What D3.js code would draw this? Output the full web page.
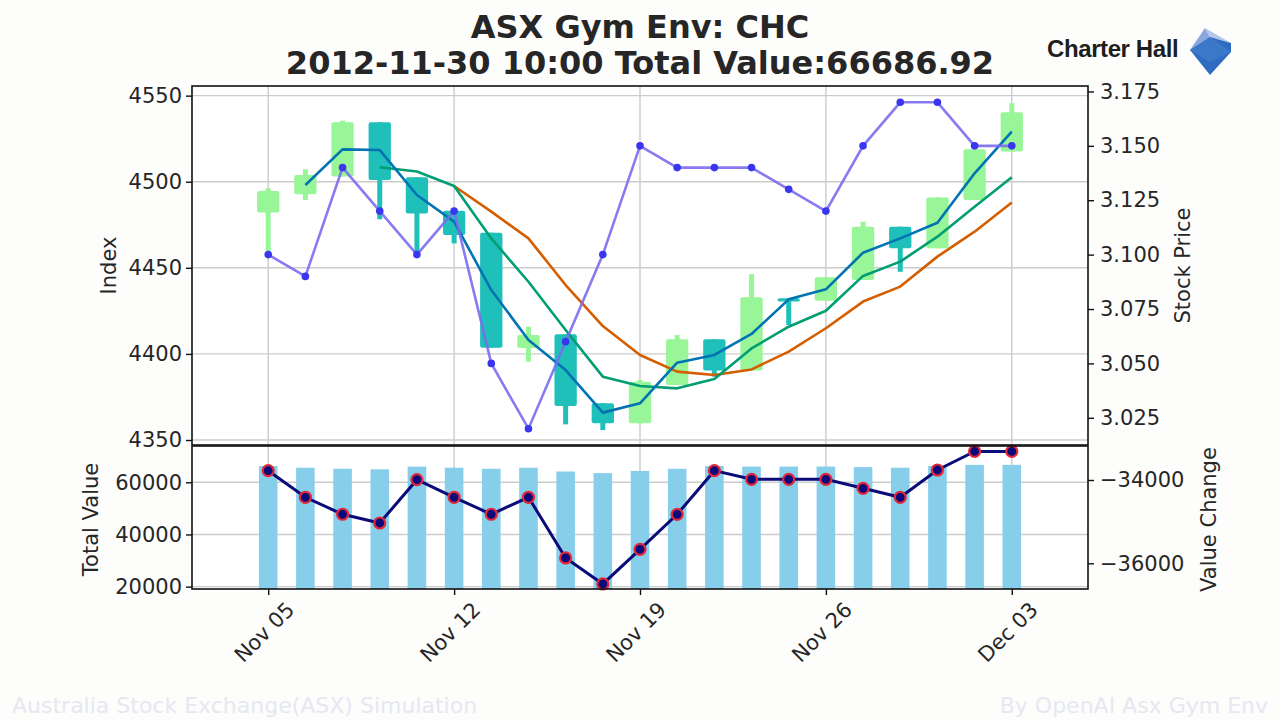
<!DOCTYPE html>
<html><head><meta charset="utf-8">
<script src="https://cdn.jsdelivr.net/npm/d3@7"></script>
<style>
body{margin:0;background:#fdfdfc;}
svg{display:block;font-family:"DejaVu Sans",sans-serif;}
</style>
</head><body>
<svg id="c" width="1280" height="720"></svg>
<script>
// ---------- data ----------
const dates = ["2012-11-05","2012-11-06","2012-11-07","2012-11-08","2012-11-09",
  "2012-11-12","2012-11-13","2012-11-14","2012-11-15","2012-11-16",
  "2012-11-19","2012-11-20","2012-11-21","2012-11-22","2012-11-23",
  "2012-11-26","2012-11-27","2012-11-28","2012-11-29","2012-11-30","2012-12-03"];
const openV  = [4482.2,4492.7,4503.0,4534.5,4502.6,4483.2,4470.4,4403.5,4411.4,4371.3,4359.7,4381.9,4408.5,4390.3,4432.3,4430.9,4442.9,4473.9,4461.3,4489.4,4517.5];
const highV  = [4496.2,4507.2,4535.5,4534.5,4502.6,4484.0,4470.4,4415.8,4411.4,4371.3,4384.9,4411.0,4408.5,4446.4,4432.3,4444.5,4476.8,4473.9,4490.9,4518.8,4545.6];
const lowV   = [4459.4,4489.4,4503.0,4478.2,4459.4,4464.2,4403.6,4395.5,4359.1,4355.8,4359.7,4381.9,4386.8,4390.3,4416.8,4430.9,4442.9,4447.7,4461.3,4489.4,4517.5];
const closeV = [4494.6,4503.9,4534.5,4501.0,4481.6,4469.1,4403.6,4411.0,4369.7,4359.7,4383.9,4408.5,4390.3,4432.9,4430.4,4444.5,4473.9,4461.3,4490.9,4518.8,4540.3];
const maShort = [null,4498.1,4518.8,4518.4,4492.3,4476.8,4437.1,4408.1,4390.6,4365.9,4371.3,4394.9,4399.4,4411.6,4431.7,4437.5,4458.8,4467.1,4476.2,4504.9,4529.1];
const maMid   = [null,null,null,4508.4,4505.9,4497.5,4467.1,4441.9,4413.9,4386.8,4381.4,4380.0,4385.4,4403.2,4415.8,4425.1,4445.3,4453.6,4468.1,4485.5,4502.6];
const maLong  = [null,null,null,null,null,4497.5,4482.6,4467.1,4440.0,4416.2,4399.4,4389.7,4387.8,4391.0,4401.3,4414.9,4430.4,4439.1,4456.5,4471.0,4487.9];
const stockPrice = [3.10,3.09,3.14,3.12,3.10,3.12,3.05,3.02,3.06,3.10,3.15,3.14,3.14,3.14,3.13,3.12,3.15,3.17,3.17,3.15,3.15];
const totalValue = [66223,65585,65177,64968,66007,65585,65177,65585,64128,63504,64336,65176,66224,66016,66016,66016,65800,65584,66240,66686.92,66686.92];
const valueChange = [-33777,-34415,-34823,-35032,-33993,-34415,-34823,-34415,-35872,-36496,-35664,-34824,-33776,-33984,-33984,-33984,-34200,-34416,-33760,-33313.08,-33313.08];
const xTickDates = ["2012-11-05","2012-11-12","2012-11-19","2012-11-26","2012-12-03"];
const xTickLabels = ["Nov 05","Nov 12","Nov 19","Nov 26","Dec 03"];
const indexTicks = [4350,4400,4450,4500,4550];
const priceTicks = [3.025,3.050,3.075,3.100,3.125,3.150,3.175];
const totalTicks = [20000,40000,60000];
const changeTicks = [-36000,-34000];
const titleLines = ["ASX Gym Env: CHC","2012-11-30 10:00 Total Value:66686.92"];

// ---------- layout ----------
const svg = d3.select("#c");
const L=192,R=1088,T1=86,B1=445,T2=446,B2=589;
const FS=21, TXT="#262626";
const idx = dates.map((d,i)=>i);
const x = d3.scaleLinear().domain([-2.05,22.05]).range([L,R]);
const yL = d3.scaleLinear().domain([4347.1,4555.6]).range([B1,T1]);
const yR = d3.scaleLinear().domain([3.0125,3.1775]).range([B1,T1]);
const yB = d3.scaleLinear().domain([19100,73900]).range([B2,T2]);
const yV = d3.scaleLinear().domain([-36617,-33184]).range([B2,T2]);
const tickIdx = xTickDates.map(d=>dates.indexOf(d));

svg.append("rect").attr("width",1280).attr("height",720).attr("fill","#fdfdfc");
svg.append("rect").attr("x",L).attr("y",T1).attr("width",R-L).attr("height",B2-T1).attr("fill","#ffffff");

// grid
const grid = svg.append("g").attr("stroke","#cccccc").attr("stroke-width",1.4);
grid.selectAll(".hg").data(indexTicks).join("line")
  .attr("x1",L).attr("x2",R).attr("y1",d=>yL(d)).attr("y2",d=>yL(d));
grid.selectAll(".hb").data(totalTicks).join("line")
  .attr("x1",L).attr("x2",R).attr("y1",d=>yB(d)).attr("y2",d=>yB(d));
grid.selectAll(".vg").data(tickIdx).join("line")
  .attr("x1",d=>x(d)).attr("x2",d=>x(d)).attr("y1",T1).attr("y2",B1);
grid.selectAll(".vb").data(tickIdx).join("line")
  .attr("x1",d=>x(d)).attr("x2",d=>x(d)).attr("y1",T2).attr("y2",B2);

// candles
const UP="#98f598", DOWN="#1fbfba";
const bw = x(0.3)-x(0);
const cg = svg.append("g");
cg.selectAll(".wick").data(idx).join("rect")
  .attr("x",i=>x(i)-2.5).attr("width",5)
  .attr("y",i=>yL(highV[i])).attr("height",i=>Math.max(1,yL(lowV[i])-yL(highV[i])))
  .attr("fill",i=>closeV[i]>=openV[i]?UP:DOWN);
cg.selectAll(".body").data(idx).join("rect")
  .attr("x",i=>x(i)-bw).attr("width",2*bw)
  .attr("y",i=>yL(Math.max(openV[i],closeV[i])))
  .attr("height",i=>Math.max(2,Math.abs(yL(openV[i])-yL(closeV[i]))))
  .attr("rx",2)
  .attr("fill",i=>closeV[i]>=openV[i]?UP:DOWN);

// moving averages
function maLine(arr,color){
  const ln = d3.line().defined(i=>arr[i]!=null).x(i=>x(i)).y(i=>yL(arr[i]));
  svg.append("path").attr("d",ln(idx)).attr("fill","none").attr("stroke",color).attr("stroke-width",2.6).attr("stroke-linejoin","round");
}
maLine(maLong,"#d55e00");
maLine(maMid,"#029e73");
maLine(maShort,"#0173b2");

// stock price
svg.append("path").attr("d",d3.line().x(i=>x(i)).y(i=>yR(stockPrice[i]))(idx))
  .attr("fill","none").attr("stroke","#7b6cee").attr("stroke-width",2.6).attr("stroke-opacity",0.9);
svg.selectAll(".pp").data(idx).join("circle")
  .attr("cx",i=>x(i)).attr("cy",i=>yR(stockPrice[i])).attr("r",3.8).attr("fill","#3a35ee");

// bottom panel bars
const barW = x(0.25)-x(0);
svg.selectAll(".bar").data(idx).join("rect")
  .attr("x",i=>x(i)-barW).attr("width",2*barW)
  .attr("y",i=>yB(totalValue[i])).attr("height",i=>B2-yB(totalValue[i]))
  .attr("fill","#87ceeb");
svg.append("path").attr("d",d3.line().x(i=>x(i)).y(i=>yV(valueChange[i]))(idx))
  .attr("fill","none").attr("stroke","#0a0a78").attr("stroke-width",3);
svg.selectAll(".vp").data(idx).join("circle")
  .attr("cx",i=>x(i)).attr("cy",i=>yV(valueChange[i])).attr("r",5.5)
  .attr("fill","#0a0a7a").attr("stroke","#e0283a").attr("stroke-width",2.2);

// frames
svg.append("rect").attr("x",L).attr("y",T1).attr("width",R-L).attr("height",B1-T1)
  .attr("fill","none").attr("stroke","#111").attr("stroke-width",1.6);
svg.append("rect").attr("x",L).attr("y",T2).attr("width",R-L).attr("height",B2-T2)
  .attr("fill","none").attr("stroke","#111").attr("stroke-width",1.6);

// axes
function styleAxis(g){
  g.select(".domain").remove();
  g.selectAll("line").attr("stroke","#111").attr("stroke-width",1.4);
  g.selectAll("text").attr("font-size",FS).attr("fill",TXT).attr("font-family","DejaVu Sans");
}
svg.append("g").attr("transform",`translate(${L},0)`)
  .call(d3.axisLeft(yL).tickValues(indexTicks).tickFormat(d3.format("d")).tickSize(6).tickPadding(4)).call(styleAxis);
svg.append("g").attr("transform",`translate(${R},0)`)
  .call(d3.axisRight(yR).tickValues(priceTicks).tickFormat(d3.format(".3f")).tickSize(6).tickPadding(6)).call(styleAxis);
svg.append("g").attr("transform",`translate(${L},0)`)
  .call(d3.axisLeft(yB).tickValues(totalTicks).tickFormat(d3.format("d")).tickSize(6).tickPadding(4)).call(styleAxis);
svg.append("g").attr("transform",`translate(${R},0)`)
  .call(d3.axisRight(yV).tickValues(changeTicks).tickFormat(d3.format("d")).tickSize(6).tickPadding(6)).call(styleAxis);
const xa = svg.append("g").attr("transform",`translate(0,${B2})`)
  .call(d3.axisBottom(x).tickValues(tickIdx).tickFormat(()=>"").tickSize(6));
xa.select(".domain").remove();
xa.selectAll("line").attr("stroke","#111").attr("stroke-width",1.4);
svg.selectAll(".xl").data(tickIdx).join("text")
  .attr("transform",(d)=>`translate(${x(d)-3},${B2+44}) rotate(-45)`)
  .attr("text-anchor","middle").attr("dominant-baseline","middle")
  .attr("font-size",FS).attr("fill",TXT)
  .text((d,k)=>xTickLabels[k]);

// axis labels
function vlabel(txt,cx,cy){
  svg.append("text").attr("transform",`translate(${cx},${cy}) rotate(-90)`)
    .attr("text-anchor","middle").attr("dominant-baseline","middle")
    .attr("font-size",FS).attr("fill",TXT).text(txt);
}
vlabel("Index",110,(T1+B1)/2);
vlabel("Stock Price",1184,(T1+B1)/2);
vlabel("Total Value",92,(T2+B2)/2+2);
vlabel("Value Change",1210,(T2+B2)/2+2);

// title
svg.selectAll(".title").data(titleLines).join("text")
  .attr("x",640).attr("y",(d,i)=>38+i*36).attr("text-anchor","middle")
  .attr("font-size",32).attr("font-weight","bold").attr("fill",TXT).text(d=>d);

// logo
const logo = svg.append("g");
logo.append("text").attr("x",1047).attr("y",57).attr("font-family","Liberation Sans, Arial, sans-serif")
  .attr("font-weight","bold").attr("font-size",24).attr("letter-spacing",-0.4).attr("fill","#1e1e1e").text("Charter Hall");
logo.append("path").attr("d","M1190,50 L1205,28 L1210,37 Z").attr("fill","#8ba6dc");
logo.append("path").attr("d","M1205,28 L1231,43 L1210,37 Z").attr("fill","#b4c6ea");
logo.append("path").attr("d","M1190,50 L1210,37 L1231,43 L1231,52 L1210,75 Z").attr("fill","#2f6cc0");
logo.append("path").attr("d","M1190,50 L1210,37 L1231,52 L1210,62 Z").attr("fill","#3c78c8");

// footer
svg.append("text").attr("x",12).attr("y",713).attr("font-size",22).attr("fill","#e6e8f1")
  .text("Australia Stock Exchange(ASX) Simulation");
svg.append("text").attr("x",1268).attr("y",713).attr("text-anchor","end").attr("font-size",22).attr("fill","#e6e8f1")
  .text("By OpenAI Asx Gym Env");
</script>
</body></html>
